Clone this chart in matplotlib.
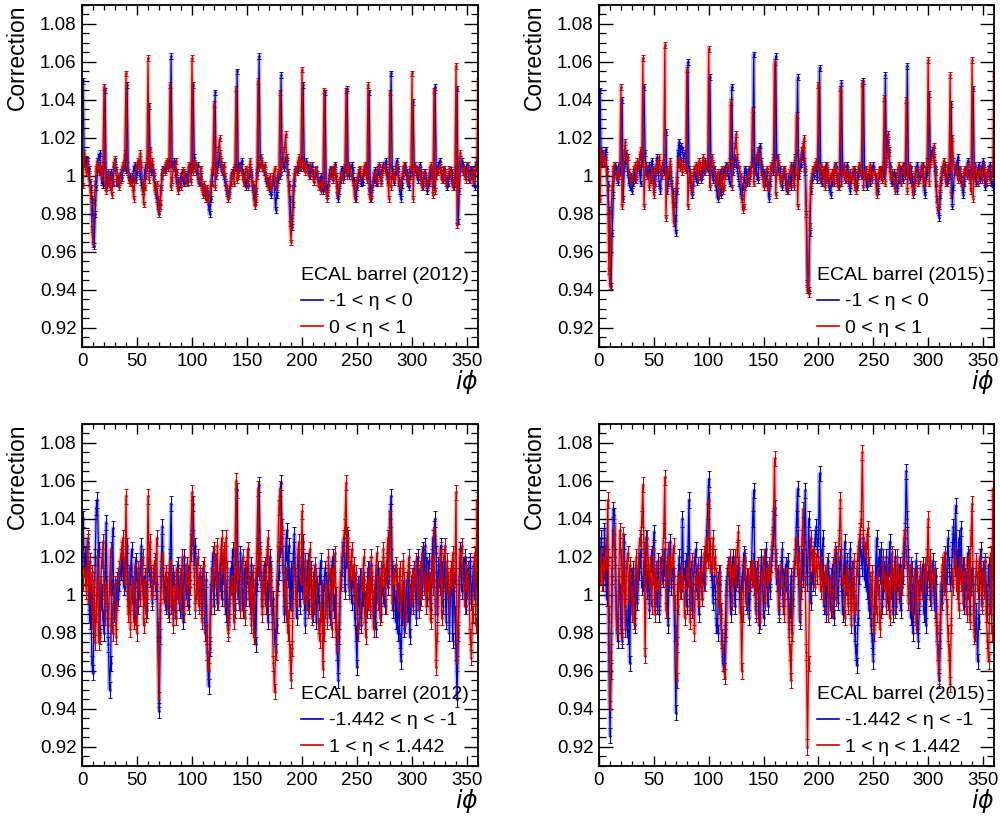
import numpy as np
import matplotlib
matplotlib.use('Agg')
import matplotlib.pyplot as plt
from matplotlib.ticker import MultipleLocator, FuncFormatter
from matplotlib.lines import Line2D

plt.rcParams['font.family'] = ['Liberation Sans', 'DejaVu Sans']
plt.rcParams['mathtext.fontset'] = 'dejavusans'

# corrections as deviation from 1 in units of 1e-3, one line per supermodule (20 iphi)
eb_minus_2012 = [
    50, 8, 6, 9, 2, 4, -3, -6, -12, -22, -37, -20, -6, 2, 10, 12, 4, -3, -5, 6,
    45, -6, -4, 1, -2, 2, 0, -3, 6, 8, 3, -4, -2, -3, 2, -1, 4, 5, 10, 3,
    48, 2, -2, 0, -3, -1, 4, 6, -2, 2, 5, 7, 0, -3, -8, -5, 2, 6, 4, 8,
    37, 6, 2, 5, 0, -4, -8, -12, -16, -20, -14, -6, 2, 4, 3, 5, 7, 4, 8, 6,
    63, 6, 4, 8, 2, -4, -2, -6, -3, 0, 2, -2, -4, 1, 0, -3, 3, 6, 2, 4,
    48, 10, 5, 2, 6, -2, -4, 0, -5, -8, -6, -10, -12, -8, -16, -20, -12, -4, 2, 6,
    44, 0, 3, 6, 12, 6, 2, 4, 0, -3, -6, -9, -12, -8, -4, 2, 0, 3, 5, 4,
    55, 2, 6, 4, 8, 2, 0, -3, -6, -2, -4, 0, 3, 1, -6, -10, -14, -8, 2, 6,
    63, 10, 8, 6, 4, 2, -1, -4, -2, -6, -8, -10, -4, 0, -6, -18, -10, -2, 2, 0,
    53, 8, 6, 4, 10, 8, 2, -4, -12, -22, -27, -15, -4, 2, 4, 3, 6, 8, 4, 10,
    48, 6, 4, 8, 5, 2, 0, 4, 6, 2, -3, 0, 3, 1, -4, -2, 0, -5, -8, -6,
    44, -6, -10, -4, 2, 4, 0, -2, 3, 6, 0, -4, -12, -8, -2, 4, 2, 0, 5, 3,
    46, 2, 0, 4, 6, 3, -2, -8, -12, -6, -2, 2, 0, -4, -3, 2, 4, 6, 3, 0,
    44, -6, -12, -6, -2, 3, 0, -4, 2, 5, 1, -2, 3, 6, 4, 8, 2, -3, 0, 6,
    54, 4, 0, -3, 2, 8, 4, -2, -8, -12, -5, 0, 3, 6, 2, -4, -6, 0, 4, 2,
    39, 6, 4, 2, -2, 3, 6, 2, -3, -6, 0, 2, -2, -8, -4, 0, 4, 2, -4, -6,
    47, 4, 2, 6, 8, 3, 0, -2, 4, 2, -2, -6, -4, 0, 3, 2, -3, -6, -2, 4,
    46, -24, -8, 4, 8, 6, 2, 0, 4, 6, 3, -2, 0, 4, 2, -4, -6, 6, 8, -4,
]
eb_plus_2012 = [
    -5, 12, 6, 2, 8, 0, -4, -10, -28, -36, -14, -4, 4, 8, 2, 6, 3, -2, 4, 47,
    -4, -8, -2, 2, -6, 0, -10, -4, 4, 9, 2, -3, 0, -6, -2, 2, 6, 4, 12, 54,
    6, 2, -2, -4, 0, -6, -12, -2, 3, 6, 8, 4, 12, 6, -4, -15, -6, 0, 8, 62,
    -2, 14, 4, 8, 2, -6, -10, -4, -12, -20, -16, -6, 0, 4, 2, 6, 8, 4, 7, 48,
    -6, -2, 4, 6, 8, 2, -8, -4, -2, -6, 0, 3, 2, -2, -4, 0, 6, 4, -3, 62,
    2, 8, 4, 6, 0, -4, -2, 4, -6, -10, -4, -8, -12, -6, -14, -10, -4, 2, 6, 38,
    -6, 2, 6, 14, 20, 8, 4, 2, 6, 0, -4, -8, -12, -10, -4, 0, 2, -4, 4, 46,
    -2, 0, 4, 6, 2, 0, -4, -2, 4, 2, -6, 3, 8, 2, -4, -8, -16, -12, 0, 50,
    4, 6, 10, 4, 2, 6, 0, -2, -6, -4, 0, -8, -4, 0, 4, -2, -6, 2, 0, 44,
    2, 6, 8, 14, 22, 10, 2, -6, -25, -35, -22, -6, 0, 4, 2, 6, 10, 4, 8, 56,
    4, 8, 2, 6, 3, 0, 6, 4, 2, 0, -3, 2, 4, 0, -6, -4, -8, -2, -6, 45,
    -4, -8, -12, -6, 0, 3, 4, -2, 2, 5, 0, -10, -8, -4, 0, 2, -2, 4, 3, 45,
    0, 2, 6, 4, 0, -3, -4, -12, -6, -2, 0, 3, 4, -2, 0, 2, 6, 3, -2, 48,
    -8, -12, -10, -4, 0, 2, -3, -2, 4, 6, 0, -4, 2, 4, 6, 3, 0, -2, -12, 44,
    -6, 0, 2, -2, 4, 6, 2, -4, -6, -2, 0, 4, 6, 2, 0, -4, -2, 4, 3, 54,
    -12, 2, 6, 4, 0, 2, 4, -2, -6, -3, 2, 0, -4, -6, -2, 3, 6, 2, -10, 45,
    -8, 0, 4, 2, 6, 3, -2, 0, 4, 2, -4, -2, 0, 4, 2, -2, -6, -4, 0, 58,
    -26, -6, 8, 12, 6, 2, 4, 0, -2, 3, 6, 2, -2, 0, 3, -4, 2, 4, 6, 50,
]
eb_minus_2015 = [
    45, 6, 12, 10, 8, 14, 4, -4, -18, -40, -58, -30, -10, 2, 6, 4, -3, 6, 2, 4,
    40, -12, 4, 8, 12, 2, -2, -6, 0, -8, -4, 2, -2, 0, 4, 6, 2, -4, 8, 10,
    47, 12, 4, 0, 2, 6, -2, 8, 4, -6, 0, 4, 10, 2, -4, -8, 4, 6, 2, 6,
    23, -8, -4, 0, 4, -2, -8, -15, -22, -30, -8, 12, 18, 10, 16, 14, 8, 12, 10, 6,
    60, 4, 0, -6, -10, -4, 2, 0, -3, 6, 2, 4, -2, 0, 6, 2, 8, 4, 6, 2,
    52, 6, 2, -2, 4, 0, -6, -12, -4, 2, -10, -6, 0, 4, 2, 6, 3, 0, -4, 8,
    47, 2, 6, 10, 8, 4, 0, -4, -8, -12, -6, -2, 4, 2, -4, -2, 4, 0, 6, 8,
    64, 2, 6, 0, -2, 14, 16, 8, 4, 2, -4, 0, 2, -6, -12, -4, 4, 6, 2, 10,
    63, 10, 6, 2, 4, -2, -6, 0, 4, -3, -8, -4, 0, 2, -6, 4, 6, 0, 10, 12,
    52, 0, 4, 6, 10, 14, 8, 2, -20, -56, -60, -30, -8, -2, 2, 0, 4, 6, -2, 8,
    57, 2, -4, 0, 4, -2, 6, 2, -2, -6, -10, -4, 0, 2, 6, 4, -2, -4, -6, 2,
    49, 4, 2, -2, 0, 6, 2, -4, -8, -2, 0, 4, 2, -4, -6, 0, 4, 2, 6, 0,
    50, 4, 0, -6, -2, 2, -4, 0, 4, 6, 2, 0, -4, -8, 0, 3, 4, -2, 2, 0,
    53, 8, 18, 14, 6, 0, -4, -2, 2, 0, -4, -8, -2, 2, 4, 0, -2, 6, 4, 2,
    58, 2, -2, 4, 0, -4, -8, -2, 4, 6, 2, -2, 0, 4, 6, -4, -10, 0, 2, 6,
    43, 8, 12, 14, 10, 4, -4, -12, -18, -22, -10, -2, 4, 2, 6, 0, -4, -2, 4, 0,
    38, -16, -6, 2, 4, 6, 10, 2, -2, 0, -4, -10, -4, 4, 0, 8, 2, -2, 4, 0,
    46, 4, 0, -4, 2, 6, -2, 0, 4, 8, 2, -6, -2, 0, 4, 6, -2, -4, -6, -4,
]
eb_plus_2015 = [
    -12, 14, 8, 12, 6, 10, 2, -6, -50, -58, -20, -6, 4, 6, 2, -2, 4, 0, 6, 47,
    -16, 6, 12, 18, 8, 10, 2, 0, -4, -2, 0, 4, 6, -2, 8, 4, 10, 14, 6, 62,
    -16, 2, 6, 4, 0, -6, -2, 4, 2, -10, -4, 2, 8, 4, 10, 2, 0, 6, 10, 69,
    -22, 4, 0, 2, 8, -4, -12, -25, -15, -8, -2, 6, 10, 4, 8, 2, 6, 4, 3, 56,
    -16, -2, 2, -4, -8, 0, 4, 6, 2, -2, 8, 6, 0, 4, 10, 6, 2, 8, 4, 67,
    -6, 4, 10, 6, 2, 0, -4, 2, -10, -6, -2, 4, -8, -6, 0, 2, 6, 4, 8, 39,
    -6, 8, 10, 16, 22, 10, 6, 4, 0, -10, -18, -16, -6, -2, 0, 2, -4, 4, 6, 35,
    -4, 2, 10, 8, 14, 10, 6, 2, 0, -6, -2, 2, 4, -4, -8, 0, 6, 4, 10, 60,
    -10, 2, 10, 6, 0, -4, -2, 2, 4, 0, -6, -8, -4, 2, 6, 4, -2, -6, 2, 32,
    -16, 4, 8, 10, 14, 16, 20, 4, -20, -60, -62, -26, -4, 0, 4, 2, 6, 8, 4, 48,
    -2, 6, 2, 0, 4, -6, -2, 6, 2, -4, 0, 2, -2, -4, 4, 6, 0, -6, 2, 46,
    -4, 2, 6, 0, -2, 4, 0, -4, 2, -2, 0, 4, -6, -8, -2, 2, 6, 4, 0, 49,
    -6, 2, 4, 0, -4, 2, 6, 0, -2, 4, 2, 0, -10, -4, 2, 4, 0, -2, 6, 41,
    -4, 6, 22, 12, 4, -2, 2, 0, -4, -8, -2, 2, 6, 0, -4, 2, 6, 4, 0, 40,
    -8, 4, 6, 0, -4, -10, -6, 0, 4, 2, -4, -2, 2, 6, 0, -6, -2, 4, 8, 61,
    -4, 6, 10, 12, 16, 6, 2, -12, -18, -16, -6, 0, 4, 8, 2, -4, 0, 6, 2, 53,
    -10, 20, 8, 2, 6, 2, -2, 0, 4, -2, -6, -2, 2, 4, 0, 6, 2, 0, -8, 61,
    -12, 2, 6, 0, -4, 2, 4, 0, -2, 2, 6, 0, -4, 2, 4, -2, 0, 2, 6, 54,
]
ee_side_minus_2012 = [
    40, 14, 22, 10, 28, 4, -14, 6, -36, -41, -8, 20, 46, 50, 24, -20, -4, 2, -12, -20,
    12, 38, -8, -26, -50, -36, 4, 35, -10, 0, -4, 8, -2, 6, 12, 18, 14, 4, 10, 20,
    26, 2, -6, 10, 24, -4, 6, -12, 18, 8, -6, 2, 14, 26, 6, -2, 10, 4, -8, 16,
    20, 8, 12, -4, 10, 16, 2, 6, -18, -61, -22, 14, 36, 10, 4, -6, 2, 8, -10, 20,
    48, -4, 12, 6, -12, 2, 16, 0, -8, 10, 4, -14, 20, 6, -2, 12, -6, 8, 22, 30,
    48, 20, 26, 12, 6, -4, 10, 2, -8, 14, -2, -20, 8, -30, -48, -28, 2, 10, 22, -6,
    12, 18, -4, 8, 6, 20, -2, 10, 16, 2, -10, 8, -18, -6, 14, 4, 24, 2, -8, 10,
    55, 6, -4, 22, 12, -8, 6, 14, -2, 10, 24, 2, -6, 16, 8, -14, 4, -26, 6, 14,
    58, 22, 8, -6, 12, 16, 0, 4, -14, 6, 20, 8, -10, -2, -22, -30, -16, 6, 12, 24,
    59, 30, 12, -10, 22, 34, 8, 26, -4, 14, -8, 18, 32, 10, -12, 6, 20, -6, 14, 2,
    28, 10, -16, 2, 18, -6, 8, 14, 0, -10, 12, 4, -14, 6, -4, 10, 18, -2, -20, 6,
    14, 8, -6, 10, -12, 4, 14, 20, -8, 0, -18, -30, -45, -22, 8, 14, 24, 30, 2, 18,
    32, 20, 4, 14, -4, 12, 8, -12, -20, -38, 6, -6, 10, -16, -2, 8, -10, 2, -8, 14,
    10, -6, 16, 2, -12, 4, -18, 8, 14, -4, 6, -10, 12, 0, -6, 10, 18, 4, 26, 40,
    52, 14, -8, 10, -14, 2, -20, 6, -24, -35, -12, 4, -18, -6, 8, -10, 12, -22, 2, 10,
    -6, 14, 6, -12, 20, 8, -4, 14, 2, 24, 10, 26, 16, -2, 18, 4, -8, 12, 30, 8,
    40, 22, -10, 16, 4, 26, 14, -6, 20, 6, -14, 10, 2, -20, 4, 12, -24, 8, -10, -30,
    -55, -20, 10, 24, 2, 16, 8, 20, -6, 10, 14, 2, 18, -4, 6, 16, -2, 8, 4, 2,
]
ee_side_plus_2012 = [
    6, 14, 10, 2, 30, -4, 18, 2, 12, -18, 8, -25, -10, 20, -25, -22, 6, 18, 28, 4,
    -12, 6, -2, -16, 4, 24, -8, -20, 2, 6, -22, -4, 10, 14, 20, 24, 30, 16, 6, 52,
    8, -10, 12, -18, 2, 6, -14, 16, -6, -20, 14, 4, -2, 10, 20, -16, 8, -10, 2, 52,
    14, 28, 6, -2, 10, 18, 4, 30, -20, -55, -8, 8, 22, 2, -4, 12, 6, -8, 10, 18,
    -6, 4, -16, 8, -12, 14, 2, -4, 10, -8, 20, 2, -10, 6, 16, -4, 12, 4, 28, 54,
    30, 10, -8, 2, 20, -6, 12, 6, -14, 4, 16, -10, -20, -30, -40, -26, -6, 14, 2, 24,
    18, 4, 26, -4, 10, 20, 30, 12, 24, -6, 30, 14, -20, -8, 4, 10, 2, -14, 20, 60,
    2, 14, 6, -8, 10, 20, 4, -12, 8, 16, 24, -2, 6, -16, 12, -22, 4, 10, 26, 56,
    12, 24, 6, -10, 14, 2, -6, 20, 30, 8, -2, 14, -14, -36, -51, -30, 4, 22, 46, 56,
    26, 36, 12, 4, -10, 14, -20, -8, -30, -45, -28, 2, 16, 8, -6, 20, 28, 10, 6, 44,
    10, -4, 18, 2, -8, 12, 24, 4, -12, 8, -6, 16, 10, -2, -16, -24, -10, 4, -39, -20,
    -8, 6, -14, 20, 10, 4, -18, 14, 8, 22, 0, -30, -20, -10, 6, 16, 24, 30, 36, 59,
    18, 30, 2, 10, 24, 8, 16, -4, 12, -6, -20, -14, -8, 10, 2, 20, -10, -22, 6, -4,
    14, -8, 20, 6, -18, 2, 12, 22, -4, 10, -12, 14, 4, 24, 10, -6, 16, 30, 10, 44,
    20, -4, 12, 6, 16, 10, -8, 2, 14, -12, 4, 18, 8, -16, -10, 6, 20, 2, -6, 10,
    -4, 12, 2, 18, 6, -8, 14, -2, 22, 10, 4, 12, -6, 16, 2, 8, -14, 20, 4, 35,
    -6, -38, -20, 6, 10, 24, -12, 8, 20, 26, 2, 18, 8, -10, 14, 4, 22, 6, 10, 54,
    -36, -18, 4, 20, 26, 10, 6, -6, 16, 2, 12, -4, -22, -33, -10, 14, 22, -16, 50, 48,
]
ee_side_minus_2015 = [
    12, 30, 18, 6, 34, 10, -2, 20, -30, -74, -40, 10, 45, 42, 20, -14, -24, 6, 2, -16,
    -24, 12, 28, -6, -12, -22, 4, -36, 10, 6, 14, 2, -16, 8, -4, 12, 18, 24, 4, 6,
    18, 8, 30, 2, 12, -8, 16, 22, 10, 33, -4, 12, -6, 18, -10, 4, 20, 8, 14, 24,
    12, 6, -16, 20, 28, 4, 14, 10, -20, -62, -26, 6, 20, 12, 2, 40, 14, 8, 18, -6,
    22, 50, -4, 14, -8, 6, 16, 24, 2, 10, -10, 8, 20, -2, 12, 6, 18, 30, 44, 61,
    20, 14, 8, -4, 10, 2, -16, -20, 12, 6, -8, -24, -36, -40, -20, 4, 10, 16, 6, -10,
    14, 20, 4, -6, 12, 8, 16, 2, -10, 6, 12, 22, 18, -4, 10, 2, -12, 6, 14, 40,
    55, 10, -8, 14, 2, -16, 6, 20, 10, -12, 4, 24, 8, -6, 12, 2, 16, 22, 30, 46,
    18, 6, 12, -10, 4, 14, 24, -6, 8, 16, 2, 18, -14, -8, 10, -20, -2, 14, 20, 40,
    56, 10, -14, 2, 20, 8, 28, 55, 16, 6, 40, 20, -4, 12, 6, 22, 30, 36, 24, 30,
    64, 20, 8, 30, -6, 12, -10, 4, 18, 6, -8, 2, 16, -12, 10, 22, 4, -4, 14, 20,
    6, -10, 12, 28, 4, 18, 0, 10, 24, -4, 14, 6, -20, -30, -37, -12, 10, 28, 20, 14,
    30, 8, 22, 2, 16, -8, 6, -16, -24, -35, -10, 12, 30, 4, 20, 10, 24, -6, 2, 14,
    8, 20, -4, 14, 28, 2, 10, -10, 6, 20, -6, 12, 2, 16, -8, 4, 10, 18, 30, 65,
    40, 20, 8, -12, 14, -20, -6, 6, 18, -14, -24, -4, 10, 2, 16, -10, 8, -16, 4, 12,
    14, -2, 8, 18, 4, -8, 10, -20, -30, -45, -24, 6, -4, 12, 22, 2, 10, 30, 16, 6,
    10, 24, 36, 14, 47, 20, 6, 30, 12, 35, 8, 16, -6, 10, 2, 22, 18, -10, 4, 14,
    6, -12, -20, -8, -35, -14, 10, 24, -4, 14, 8, 18, 2, -10, 16, 6, -2, 12, 22, 20,
]
ee_side_plus_2015 = [
    10, 24, 6, 20, 12, 26, 14, 50, -10, -60, -30, 14, 30, 36, 4, -16, -20, 10, 34, 20,
    -22, 32, 6, -18, 14, 22, -4, 16, 8, -10, 4, -14, 10, 20, 2, 18, 30, 28, 40, 58,
    24, -32, 10, 30, 16, 4, 20, -6, 12, 24, -10, 14, 2, 8, -4, 16, 10, 20, 34, 62,
    -8, 14, 24, 6, 20, 10, 18, 26, -4, -20, -45, -6, 12, 2, 16, 6, 10, -12, 4, 14,
    8, 20, -14, 6, 18, 2, -20, 10, 4, 16, -6, 8, 14, -2, 12, 22, 6, 30, 18, 50,
    26, 12, 16, 30, 14, 20, 10, 8, -6, 12, -14, -22, -30, -40, -43, -18, 6, 14, 20, 10,
    -4, 16, 10, 20, 6, 24, 33, 14, 2, -40, -10, 12, 20, 4, -6, 10, 2, 14, 8, 18,
    4, 14, -10, 8, 16, 2, -14, 12, 6, 20, -4, 10, 14, 2, 16, 8, 20, 28, 40, 72,
    20, 10, 6, -8, 12, 16, 4, 10, -10, 6, 14, 2, -18, -30, -45, -20, 8, 14, 20, 30,
    10, 22, -12, 14, 30, 45, 24, 6, -30, -80, -36, 8, 30, 20, 12, 24, 4, 18, 10, 20,
    14, 2, 20, 8, -4, 12, 6, 16, -10, 4, 10, -8, 2, 14, 24, -2, 8, 20, 30, 50,
    20, 4, 10, -12, 6, 16, -6, 12, 2, -16, 8, 18, -10, -4, 14, 22, 28, 34, 40, 75,
    30, 24, 20, 28, 35, 16, 8, -6, 12, -14, -20, 6, -10, 14, 2, -18, -8, 10, 20, 6,
    12, -6, 16, 4, -12, 10, 22, 2, 14, -8, 6, 20, 10, -4, 12, 4, 18, 30, 34, 20,
    14, -4, 8, 16, 2, -10, 10, 6, -16, 12, 4, -6, 14, 8, -2, 10, 16, 2, 20, 40,
    8, 20, -4, 12, 6, 14, -10, -20, -30, -43, -14, 6, 16, 4, 22, 10, -6, -20, -30, -47,
    -16, 10, 4, 18, 24, 2, 14, -8, 20, 6, 12, -4, 16, 8, -10, 2, 20, -14, 30, 48,
    10, -22, 6, 18, 2, 14, 20, 8, -6, 12, 2, 18, -10, -24, -35, -6, 22, -20, 56, 30,
]

iphi = np.arange(1, 361)
err_central = 0.0015
err_outer = 0.004

panels = [
    (eb_minus_2012, eb_plus_2012, 'ECAL barrel (2012)', '-1 < η < 0', '0 < η < 1', err_central),
    (eb_minus_2015, eb_plus_2015, 'ECAL barrel (2015)', '-1 < η < 0', '0 < η < 1', err_central),
    (ee_side_minus_2012, ee_side_plus_2012, 'ECAL barrel (2012)', '-1.442 < η < -1', '1 < η < 1.442', err_outer),
    (ee_side_minus_2015, ee_side_plus_2015, 'ECAL barrel (2015)', '-1.442 < η < -1', '1 < η < 1.442', err_outer),
]
for p in panels:
    assert len(p[0]) == 360 and len(p[1]) == 360, (p[2], p[3], len(p[0]), len(p[1]))

blue = '#0000cc'
red = '#cc0000'

fig = plt.figure(figsize=(10, 8.16), dpi=100)
rects = [[0.082, 0.5748, 0.396, 0.4191], [0.599, 0.5748, 0.395, 0.4191],
         [0.082, 0.0613, 0.396, 0.4191], [0.599, 0.0613, 0.395, 0.4191]]

for rect, (neg, pos, title, lab_n, lab_p, err) in zip(rects, panels):
    ax = fig.add_axes(rect)
    for dev, col in ((neg, blue), (pos, red)):
        y = 1 + np.array(dev) / 1000.0
        ax.plot(iphi, y, color=col, lw=3.0, alpha=0.25)
        ax.errorbar(iphi, y, yerr=err, color=col, lw=0.9, elinewidth=0.8,
                    capsize=1.2, capthick=0.7, marker='.', ms=1.5)

    ax.set_xlim(0, 360)
    ax.set_ylim(0.91, 1.09)
    ax.xaxis.set_major_locator(MultipleLocator(50))
    ax.xaxis.set_minor_locator(MultipleLocator(10))
    ax.yaxis.set_major_locator(MultipleLocator(0.02))
    ax.yaxis.set_minor_locator(MultipleLocator(0.005))
    ax.yaxis.set_major_formatter(FuncFormatter(lambda v, p: '%g' % round(v, 4)))
    ax.tick_params(which='both', direction='in', top=True, right=True, labelsize=13.5)
    ax.tick_params(axis='y', which='major', length=10, width=1.0, pad=4)
    ax.tick_params(axis='y', which='minor', length=5, width=0.9)
    ax.tick_params(axis='x', which='major', length=7, width=1.0, pad=4)
    ax.tick_params(axis='x', which='minor', length=3.5, width=0.9)
    for s in ax.spines.values():
        s.set_linewidth(1.3)

    ax.set_ylabel('Correction', fontsize=16.5, loc='top', labelpad=8)
    ax.set_xlabel(r'$i\phi$', fontsize=17, loc='right', labelpad=-1)

    handles = [Line2D([], [], color=blue, lw=1.2), Line2D([], [], color=red, lw=1.2)]
    leg = ax.legend(handles, [lab_n, lab_p], title=title, loc='lower left',
                    bbox_to_anchor=(0.552, 0.03), frameon=False, fontsize=14,
                    title_fontsize=14, handlelength=1.15, handletextpad=0.3,
                    labelspacing=0.45, borderpad=0, borderaxespad=0, alignment='left')

fig.savefig('out.png', dpi=100)
